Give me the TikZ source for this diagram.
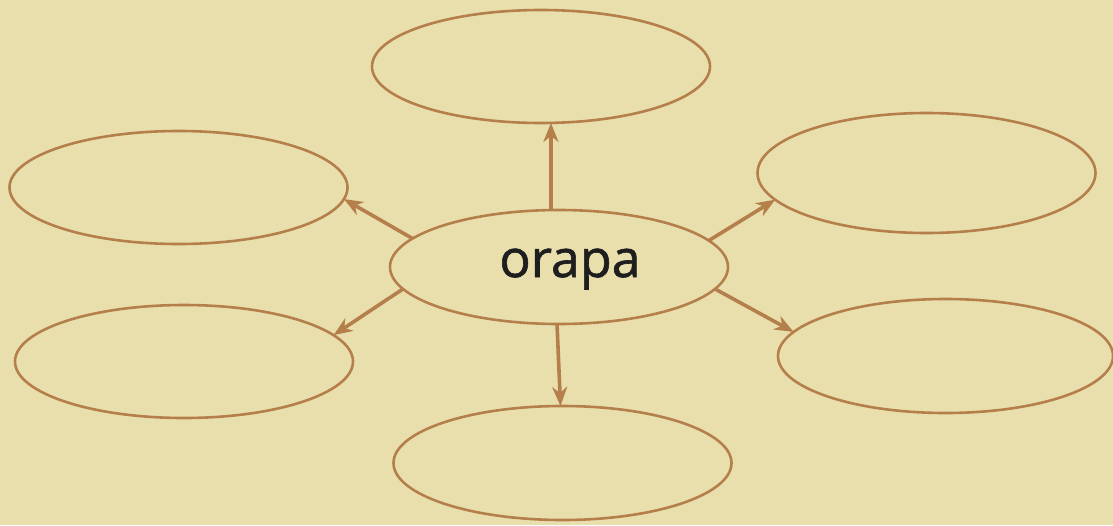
\documentclass[tikz,border=0pt]{standalone}
\usepackage{fontspec}
\setmainfont{Open Sans}
\newfontfamily\labfont[FakeBold=1.2]{Open Sans}
\usetikzlibrary{arrows.meta,shapes.geometric}
\definecolor{bg}{HTML}{E9DFAD}
\definecolor{st}{HTML}{B57F4C}
\definecolor{tx}{HTML}{1E1E1E}
\begin{document}
\begin{tikzpicture}[x=1pt,y=-1pt,
  bub/.style={ellipse,draw=st,line width=2.6pt,inner sep=0pt,outer sep=0pt,minimum width=338pt,minimum height=113pt},
  conn/.style={draw=st,line width=3.6pt,-{Stealth[length=19pt,width=15pt,inset=6pt]}}]
\fill[bg] (0,0) rectangle (1113,525);
\useasboundingbox (0,0) rectangle (1113,525);
\node[bub] (t) at (541,66.5) {};
\node[bub] (lu) at (178.5,187.5) {};
\node[bub,minimum height=120pt] (ru) at (926.5,173) {};
\node[bub,minimum height=114pt] (c) at (559,267) {};
\node[bub] (ll) at (184,361.5) {};
\node[bub,minimum width=335pt,minimum height=114pt] (rl) at (945.5,356) {};
\node[bub,minimum height=114pt] (b) at (562.5,463) {};
\node[text=tx,font=\labfont\fontsize{52}{60}\selectfont,inner sep=0pt,anchor=base] (lab) at (570,277) {orapa};
\draw[conn] (c.98.7) -- (t.-80.1);
\draw[conn] (c.169.9) -- (lu.-4.7);
\draw[conn] (c.10.1) -- (ru.190.3);
\draw[conn] (c.188.9) -- (ll.10.7);
\draw[conn] (c.-8.8) -- (rl.171.9);
\draw[conn] (c.-92) -- (b.92.6);
\end{tikzpicture}
\end{document}
